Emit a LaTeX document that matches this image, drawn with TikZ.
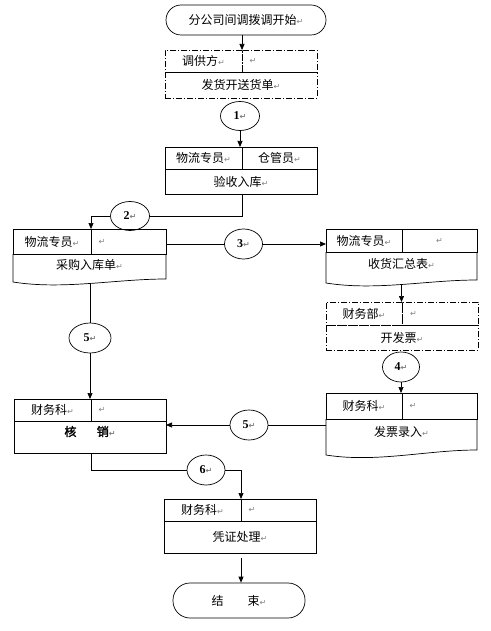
\documentclass[tikz,border=0pt]{standalone}
\usepackage{fontspec}
\setmainfont{Noto Sans CJK SC}[AutoFakeBold=2]
\newfontfamily\numfont{Liberation Serif}
\newfontfamily\symfont{DejaVu Sans}
\usetikzlibrary{positioning,shapes.geometric,arrows.meta}
\newcommand{\retmark}{{\symfont\fontsize{8}{8}\selectfont\color{gray}↵}}
\tikzset{
  every node/.style={font=\fontsize{12}{14}\selectfont},
  wire/.style={line width=0.7pt},
  arr/.style={wire, -{Triangle[length=6pt,width=5pt]}},
  cell/.style={draw, line width=0.7pt, inner sep=0pt, outer sep=0pt},
  dcell/.style={cell, dash pattern=on 6pt off 2pt on 1pt off 2pt},
  body/.style={inner sep=0pt, outer sep=0pt},
  lcell/.style={text width=60pt, align=left},
  term/.style={draw, line width=0.7pt, inner sep=0pt},
  num/.style={ellipse, draw, line width=0.7pt, inner sep=0pt,
    minimum width=39pt, minimum height=29pt,
    font=\numfont\bfseries\fontsize{12}{14}\selectfont}
}
\begin{document}
\begin{tikzpicture}[x=1pt,y=-1pt]
\useasboundingbox (0,0) rectangle (490,631);
% start
\node[term, rounded corners=15pt, minimum width=160pt, minimum height=30pt] (start) at (246,20) {分公司间调拨调开始\retmark};
% box A
\node[dcell, minimum width=77pt, minimum height=22pt] (a1) at (203.5,61) {调供方\retmark};
\node[dcell, lcell, right=0pt of a1, minimum width=75pt, minimum height=22pt] (a2) {\retmark};
\node[dcell, below right=0pt and 0pt of a1.south west, minimum width=152pt, minimum height=26pt] (a3) {发货开送货单\retmark};
\node[num] (n1) at (240,116) {1\retmark};
% box B
\node[cell, minimum width=77pt, minimum height=22pt] (b1) at (203.5,158) {物流专员\retmark};
\node[cell, right=0pt of b1, minimum width=75pt, minimum height=22pt] (b2) {仓管员\retmark};
\node[cell, below right=0pt and 0pt of b1.south west, minimum width=152pt, minimum height=25pt] (b3) {验收入库\retmark};
\node[num] (n2) at (130,216) {2\retmark};
% box C
\node[cell, minimum width=78pt, minimum height=25pt] (c1) at (52,241.5) {物流专员\retmark};
\node[cell, lcell, right=0pt of c1, minimum width=75pt, minimum height=25pt] (c2) {\retmark};
\node[body, below right=0pt and 0pt of c1.south west, minimum width=153pt, minimum height=22pt] (c3) {采购入库单\retmark};
\draw[wire] (c3.north west) -- ([yshift=-6pt]c3.south west) .. controls +(50pt,-8pt) and +(-50pt,0pt) .. node[pos=0.5, coordinate] (cw) {} ([yshift=-3pt]c3.south east) -- (c3.north east);
\node[num, minimum width=38pt, minimum height=30pt] (n3) at (243.5,244) {3\retmark};
% box D
\node[cell, minimum width=76pt, minimum height=23pt] (d1) at (364,240.5) {物流专员\retmark};
\node[cell, right=0pt of d1, minimum width=75pt, minimum height=23pt] (d2) {\retmark};
\node[body, below right=0pt and 0pt of d1.south west, minimum width=151pt, minimum height=24pt] (d3) {收货汇总表\retmark};
\draw[wire] (d3.north west) -- ([yshift=-7pt]d3.south west) .. controls +(50pt,-8pt) and +(-50pt,0pt) .. node[pos=0.5, coordinate] (dw) {} ([yshift=-4pt]d3.south east) -- (d3.north east);
% box E
\node[dcell, minimum width=76pt, minimum height=23pt] (e1) at (364,313.5) {财务部\retmark};
\node[dcell, lcell, right=0pt of e1, minimum width=76pt, minimum height=23pt] (e2) {\retmark};
\node[dcell, below right=0pt and 0pt of e1.south west, minimum width=152pt, minimum height=25pt] (e3) {开发票\retmark};
\node[num, minimum width=37pt, minimum height=30pt] (n4) at (401,367) {4\retmark};
% box F
\node[cell, minimum width=76pt, minimum height=26pt] (f1) at (364,406) {财务科\retmark};
\node[cell, lcell, right=0pt of f1, minimum width=75pt, minimum height=26pt] (f2) {\retmark};
\node[body, below right=0pt and 0pt of f1.south west, minimum width=151pt, minimum height=26pt] (f3) {发票录入\retmark};
\draw[wire] (f3.north west) -- ([yshift=-10pt]f3.south west) .. controls +(50pt,-8pt) and +(-50pt,0pt) .. ([yshift=-5pt]f3.south east) -- (f3.north east);
\node[num, minimum width=38pt, minimum height=30pt] (n5r) at (249,425) {5\retmark};
\node[num, minimum width=42pt, minimum height=30pt] (n5l) at (90,338) {5\retmark};
% box G
\node[cell, minimum width=77pt, minimum height=22pt] (g1) at (52.5,410) {财务科\retmark};
\node[cell, lcell, right=0pt of g1, minimum width=75pt, minimum height=22pt] (g2) {\retmark};
\node[cell, below right=0pt and 0pt of g1.south west, minimum width=152pt, minimum height=32pt] (g3) {};
\node[body, anchor=north] (g3t) at ([yshift=-5pt]g3.north) {\bfseries 核\hspace{1.7em}销\retmark};
\node[num, minimum width=38pt, minimum height=30pt] (n6) at (206,470) {6\retmark};
% box H
\node[cell, minimum width=77pt, minimum height=22pt] (h1) at (202.5,510) {财务科\retmark};
\node[cell, lcell, right=0pt of h1, minimum width=75pt, minimum height=22pt] (h2) {\retmark};
\node[cell, below right=0pt and 0pt of h1.south west, minimum width=152pt, minimum height=32pt] (h3) {凭证处理\retmark};
% end
\node[term, rounded corners=17pt, minimum width=132pt, minimum height=35pt] (finish) at (239,600.5) {结\hspace{2em}束\retmark};
% connectors
\draw[arr] (start.south -| a1.east) -- (a1.north east);
\draw[arr] (n1.south) -- (n1.south |- b1.north);
\draw[wire] (b3.south -| b1.east) |- (n2.east);
\draw[arr] (n2.west) -| (c1.north east);
\draw[wire] (c2.east |- n3) -- (n3.west);
\draw[arr] (n3.east) -- (n3 -| d1.west);
\draw[arr] (dw) -- (dw |- e1.north);
\draw[arr] (n4.south) -- (n4.south |- f1.north);
\draw[wire] (n5r -| f3.west) -- (n5r.east);
\draw[arr] (n5r.west) -- (n5r -| g3.east);
\draw[wire] (cw -| n5l) -- (n5l.north);
\draw[arr] (n5l.south) -- (n5l.south |- g1.north);
\draw[wire] (g3.south -| g1.east) |- (n6.west);
\draw[arr] (n6.east) -| (h1.north east);
\draw[arr] ([yshift=-5pt]h3.south -| h1.east) -- (h1.east |- finish.north);
\end{tikzpicture}
\end{document}
